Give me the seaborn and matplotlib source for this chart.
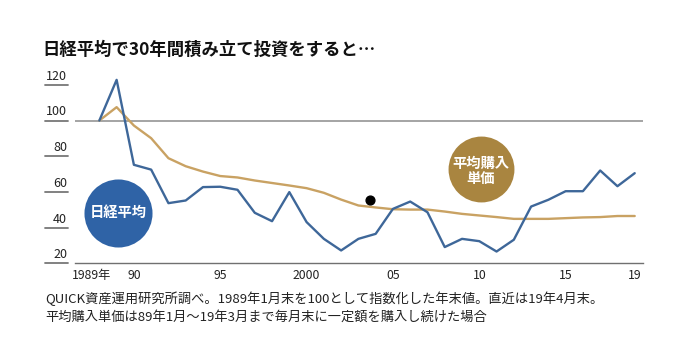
import matplotlib
matplotlib.use("Agg")
import matplotlib.pyplot as plt
import matplotlib.transforms as mtransforms
import seaborn as sns

# 0 = 1989年1月末, 1..30 = 1989..2018年末, 31 = 2019年4月末
periods = list(range(32))
nikkei = [100, 122.8, 75.2, 72.5, 53.7, 55.2, 62.7, 62.9, 61.2, 48.3,
          43.6, 59.9, 43.1, 33.7, 27.2, 33.7, 36.5, 50.5, 54.6, 48.6,
          29.1, 33.7, 32.4, 26.6, 33.2, 51.8, 55.6, 60.4, 60.4, 72.0,
          63.2, 70.5]
avg_cost = [100, 107.5, 97.2, 90.1, 78.9, 74.4, 71.4, 68.9, 68.1, 66.4,
            65.0, 63.6, 62.1, 59.5, 55.7, 52.4, 51.3, 50.3, 50.1, 50.1,
            49.0, 47.7, 46.8, 45.9, 44.9, 44.9, 44.9, 45.3, 45.7, 45.9,
            46.5, 46.5]
dot_x = [15.7]
dot_y = [55.7]

xtick_pos = [0, 2, 7, 12, 17, 22, 27, 31]
xtick_text = ["1989年", "90", "95", "2000", "05", "10", "15", "19"]
yticks = [120, 100, 80, 60, 40, 20]

title = "日経平均で30年間積み立て投資をすると…"
note1 = "QUICK資産運用研究所調べ。1989年1月末を100として指数化した年末値。直近は19年4月末。"
note2 = "平均購入単価は89年1月～19年3月まで毎月末に一定額を購入し続けた場合"

BLUE_LINE = "#3e6799"
BLUE = "#2f63a6"
GOLD_LINE = "#c9a263"
GOLD = "#a98540"

sns.set_theme(style="white")
plt.rcParams["font.family"] = ["Noto Sans CJK JP", "DejaVu Sans"]

W, H = 684, 359
fig = plt.figure(figsize=(W / 100, H / 100), dpi=100)
ax = fig.add_axes([75 / W, (H - 263.3) / H, (643 - 75) / W, (263.3 - 77) / H])

sns.lineplot(x=periods, y=avg_cost, ax=ax, color=GOLD_LINE, linewidth=1.7, zorder=3)
sns.lineplot(x=periods, y=nikkei, ax=ax, color=BLUE_LINE, linewidth=1.7, zorder=4)
ax.axhline(100, color="#8c8c8c", linewidth=1.1, zorder=2)
ax.scatter(dot_x, dot_y, s=40, color="black", zorder=5)

# label bubbles
ax.scatter([1.07], [48.2], s=2400, color=BLUE, zorder=6, linewidths=0)
ax.text(1.07, 48.2, "日経平均", color="white", fontsize=10.3, fontweight="bold",
        ha="center", va="center", zorder=7)
ax.scatter([22.1], [72.9], s=2250, color=GOLD, zorder=6, linewidths=0)
ax.text(22.1, 71.5, "平均購入\n単価", color="white", fontsize=10.3, fontweight="bold",
        ha="center", va="center", linespacing=1.15, zorder=7)

ax.set_xlim(-1.41, 31.48)
ax.set_ylim(20, 124.4)
for s in ["top", "right", "left"]:
    ax.spines[s].set_visible(False)
ax.spines["bottom"].set_color("#707070")
ax.spines["bottom"].set_linewidth(1.0)

ax.set_xticks(periods)
ax.set_xticklabels([xtick_text[xtick_pos.index(p)] if p in xtick_pos else "" for p in periods])
ax.tick_params(axis="x", direction="inout", length=5, width=0.8, color="#707070",
               labelsize=8.8, labelcolor="#222222", pad=1.5)
ax.set_yticks([])
lbl = ax.get_xticklabels()[0]
lbl.set_transform(lbl.get_transform() + mtransforms.ScaledTranslation(-8 / 100, 0, fig.dpi_scale_trans))

# y labels sitting on short rules left of the plot
blend = mtransforms.blended_transform_factory(ax.transAxes, ax.transData)
for v in yticks:
    ax.plot([-0.0528, -0.0123], [v, v], transform=blend, color="#777777",
            linewidth=1.3, clip_on=False)
    ax.annotate(str(v), xy=(-0.0141, v), xycoords=blend, xytext=(0, 1.5),
                textcoords="offset points", ha="right", va="bottom",
                fontsize=9, color="#222222", annotation_clip=False)

fig.text(42 / W, 1 - 50 / H, title, fontsize=12.5, fontweight="bold",
         color="#111111", ha="left", va="center")
fig.text(45 / W, 1 - 299 / H, note1, fontsize=9.5, color="#222222", ha="left", va="center")
fig.text(45 / W, 1 - 317 / H, note2, fontsize=9.5, color="#222222", ha="left", va="center")

fig.savefig("out.png", dpi=100, facecolor="white")
